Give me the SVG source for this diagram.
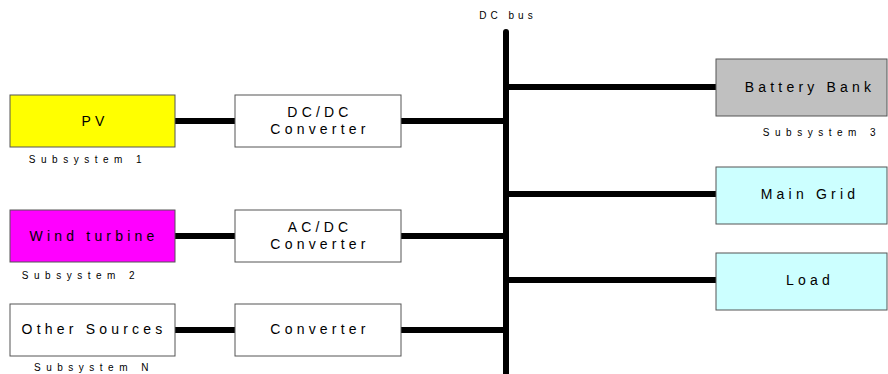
<svg xmlns="http://www.w3.org/2000/svg" width="888" height="374" viewBox="0 0 888 374">
<style>
.box{stroke:#555;stroke-width:1}
.t{font-family:"Liberation Sans",Arial,sans-serif;font-size:14px;letter-spacing:4.2px;text-anchor:middle;dominant-baseline:central;fill:#000}
.c{font-family:"Liberation Sans",Arial,sans-serif;font-size:10px;letter-spacing:5.5px;text-anchor:middle;fill:#000}
.w{stroke:#000;stroke-width:6;stroke-linecap:round;fill:none}
</style>
<rect width="888" height="374" fill="#fff"/>
<g id="connectors">
<line class="w" x1="506" y1="32" x2="506" y2="380" stroke-width="8"/>
<line class="w" x1="175" y1="121" x2="235" y2="121"/>
<line class="w" x1="401" y1="121" x2="506" y2="121"/>
<line class="w" x1="175" y1="236" x2="235" y2="236"/>
<line class="w" x1="401" y1="236" x2="506" y2="236"/>
<line class="w" x1="175" y1="330" x2="235" y2="330"/>
<line class="w" x1="401" y1="330" x2="506" y2="330"/>
<line class="w" x1="506" y1="87" x2="716" y2="87"/>
<line class="w" x1="506" y1="194" x2="716" y2="194"/>
<line class="w" x1="506" y1="280" x2="716" y2="280"/>
</g>
<g id="bus"><text class="c" x="508" y="19" style="letter-spacing:4px">DC bus</text></g>
<g id="pv"><rect class="box" x="10" y="95" width="165" height="52" fill="#ffff00"/><text class="t" x="95" y="121">PV</text><text class="c" x="88" y="163">Subsystem 1</text></g>
<g id="dcdc"><rect class="box" x="235" y="95" width="166" height="52" fill="#fff"/><text class="t" x="320" y="112">DC/DC</text><text class="t" x="320" y="129">Converter</text></g>
<g id="wind"><rect class="box" x="10" y="210" width="165" height="52" fill="#ff00ff"/><text class="t" x="94" y="236">Wind turbine</text><text class="c" x="81" y="279">Subsystem 2</text></g>
<g id="acdc"><rect class="box" x="235" y="210" width="166" height="52" fill="#fff"/><text class="t" x="320" y="227">AC/DC</text><text class="t" x="320" y="244">Converter</text></g>
<g id="other"><rect class="box" x="10" y="304" width="165" height="52" fill="#fff"/><text class="t" x="94" y="329">Other Sources</text><text class="c" x="94" y="371">Subsystem N</text></g>
<g id="conv"><rect class="box" x="235" y="304" width="166" height="52" fill="#fff"/><text class="t" x="320" y="329">Converter</text></g>
<g id="battery"><rect class="box" x="716" y="59" width="171" height="57" fill="#c0c0c0"/><text class="t" x="810" y="87">Battery Bank</text><text class="c" x="822" y="136">Subsystem 3</text></g>
<g id="grid"><rect class="box" x="716" y="167" width="171" height="57" fill="#ccffff"/><text class="t" x="810" y="194">Main Grid</text></g>
<g id="load"><rect class="box" x="716" y="253" width="171" height="57" fill="#ccffff"/><text class="t" x="810" y="280">Load</text></g>
</svg>
